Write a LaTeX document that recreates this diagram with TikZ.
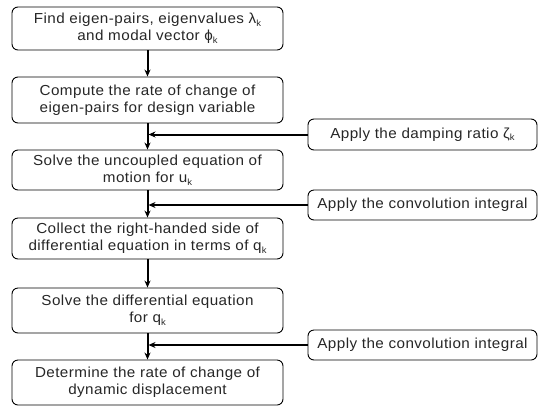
\documentclass[tikz,border=0pt]{standalone}
\usepackage{fontspec}
\setmainfont[LetterSpace=3,FakeStretch=1.05]{Liberation Sans}
\usetikzlibrary{arrows.meta}
\newcommand{\sbk}{\raisebox{-0.35ex}{\fontsize{9}{9}\selectfont k}}
\tikzset{
  mainbox/.style={draw, rounded corners=6pt, line width=0.9pt, minimum width=271pt,
    align=center, inner sep=2pt, font=\fontsize{14.5}{17}\selectfont, text=black!85},
  sidebox/.style={draw, rounded corners=6pt, line width=0.9pt, minimum width=229pt,
    minimum height=30pt, align=center, inner sep=2pt, font=\fontsize{14.5}{17}\selectfont, text=black!85},
  flow/.style={line width=2pt, -{Stealth[length=7pt,width=6pt]}},
}
\begin{document}
\begin{tikzpicture}[x=1pt,y=1pt]
\useasboundingbox (0,0) rectangle (543,-408);
\node[mainbox, minimum height=43pt] (b1) at (147.5,-28.5) {Find eigen-pairs, eigenvalues λ\sbk\\and modal vector ϕ\sbk};
\node[mainbox, minimum height=46pt] (b2) at (147.5,-100) {Compute the rate of change of\\eigen-pairs for design variable};
\node[mainbox, minimum height=40pt] (b3) at (147.5,-170) {Solve the uncoupled equation of\\motion for u\sbk};
\node[mainbox, minimum height=41pt] (b4) at (147.5,-238.5) {Collect the right-handed side of\\differential equation in terms of q\sbk};
\node[mainbox, minimum height=45pt] (b5) at (147.5,-310.5) {Solve the differential equation\\for q\sbk};
\node[mainbox, minimum height=45pt] (b6) at (147.5,-382.5) {Determine the rate of change of\\dynamic displacement};
\node[sidebox, minimum height=31pt] (s1) at (422.5,-134.5) {Apply the damping ratio ζ\sbk};
\node[sidebox] (s2) at (422.5,-205) {Apply the convolution integral};
\node[sidebox] (s3) at (422.5,-345) {Apply the convolution integral};
\draw[flow] (b1) -- (b2);
\draw[flow] (b2) -- (b3);
\draw[flow] (b3) -- (b4);
\draw[flow] (b4) -- (b5);
\draw[flow] (b5) -- (b6);
\draw[flow] (s1.west) -- ([xshift=1pt]s1.west -| b2.south);
\draw[flow] (s2.west) -- ([xshift=1pt]s2.west -| b3.south);
\draw[flow] (s3.west) -- ([xshift=1pt]s3.west -| b5.south);
\end{tikzpicture}
\end{document}
